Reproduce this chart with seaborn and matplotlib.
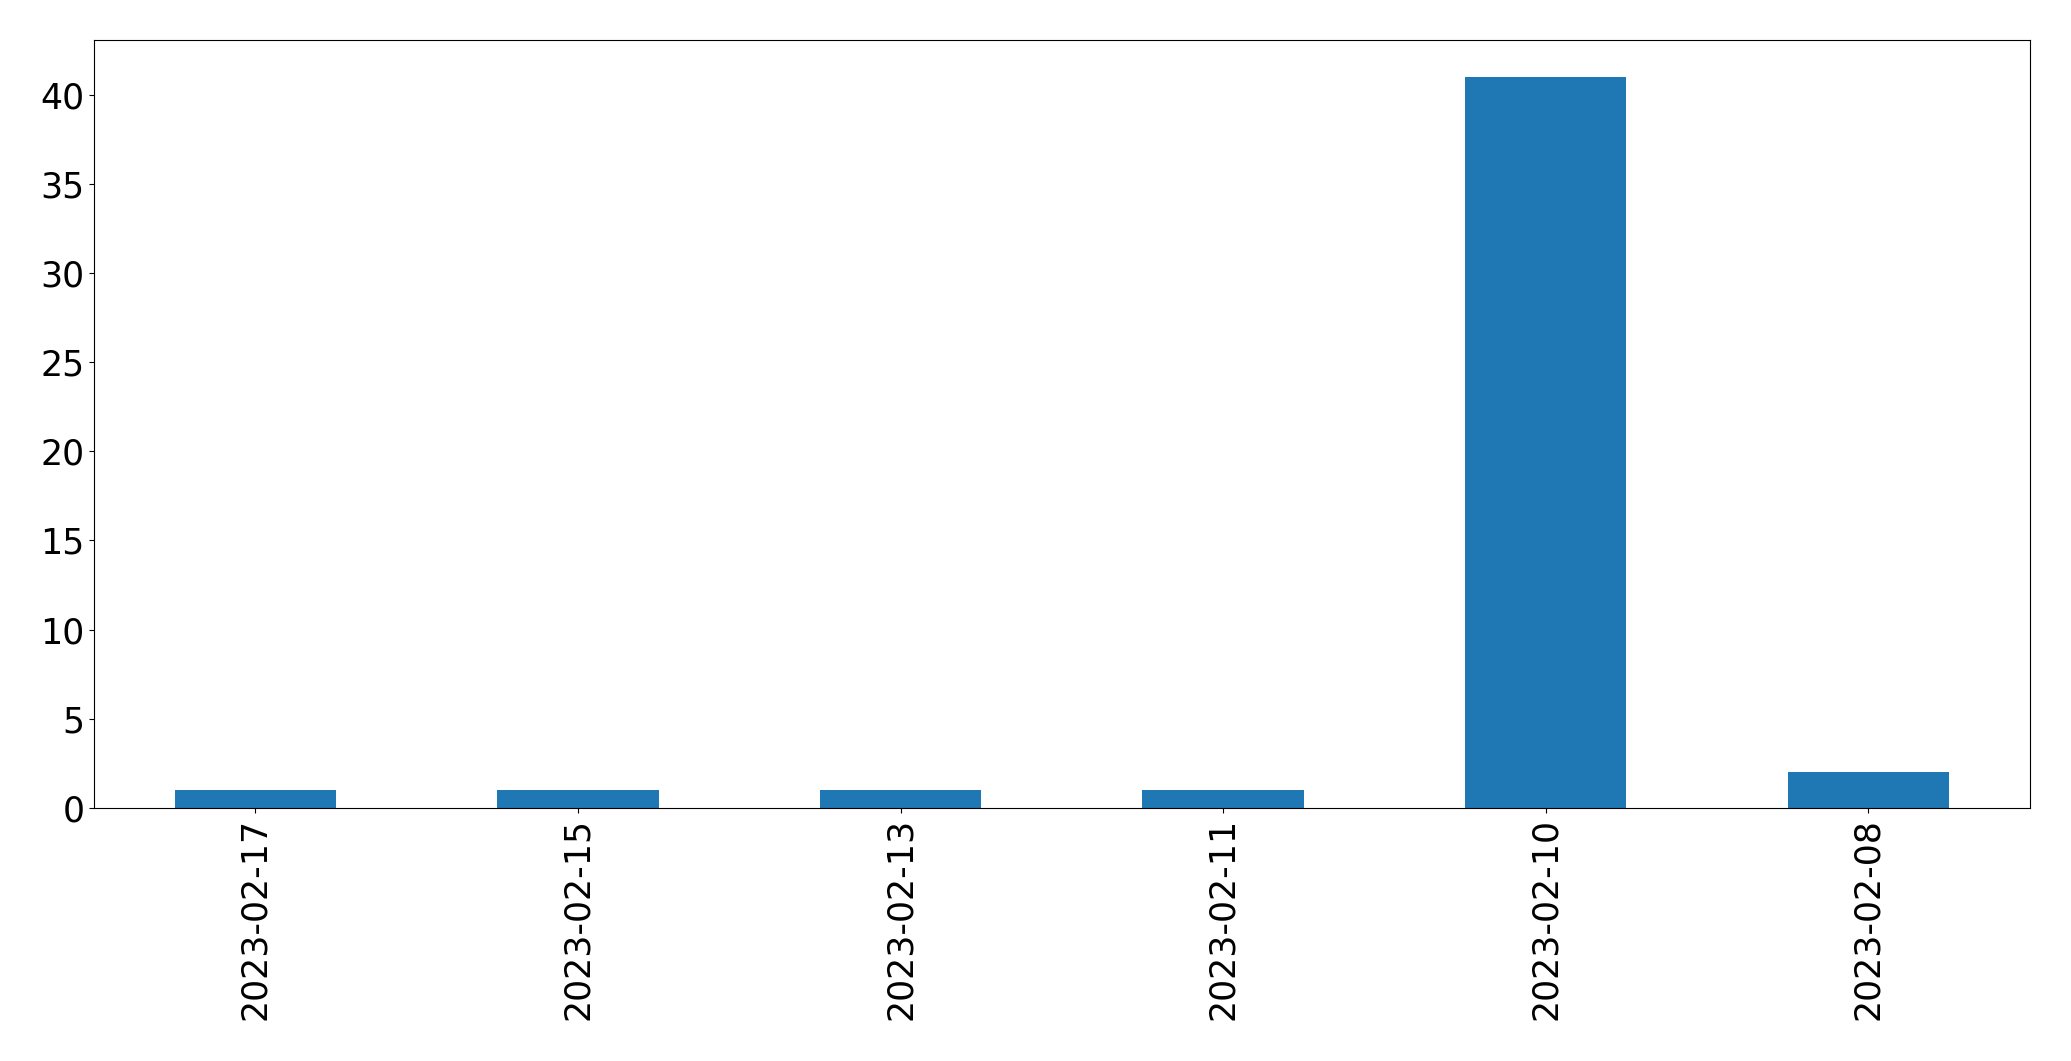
import pandas as pd
import matplotlib
matplotlib.use('Agg')
import matplotlib.pyplot as plt
import seaborn as sns

# Counts per date
dates = ['2023-02-17', '2023-02-15', '2023-02-13', '2023-02-11', '2023-02-10', '2023-02-08']
counts = [1, 1, 1, 1, 41, 2]

df = pd.DataFrame({'date': dates, 'count': counts})

plt.rcParams['font.size'] = 25
plt.rcParams['axes.edgecolor'] = 'black'

fig, ax = plt.subplots(figsize=(20.71, 10.61), dpi=100)
sns.barplot(data=df, x='date', y='count', color='#1f77b4', saturation=1,
            width=0.5, order=dates, ax=ax)

ax.set_xlim(-0.5, len(dates) - 0.5)
ax.set_ylim(0, max(counts) * 1.05)
ax.set_xlabel('')
ax.set_ylabel('')
ax.tick_params(axis='x', labelrotation=90)
ax.tick_params(labelsize=25, colors='black')
for s in ax.spines.values():
    s.set_edgecolor('black')

fig.subplots_adjust(left=0.0454, right=0.980, top=0.962, bottom=0.2385)
fig.savefig('out.png', dpi=100)
